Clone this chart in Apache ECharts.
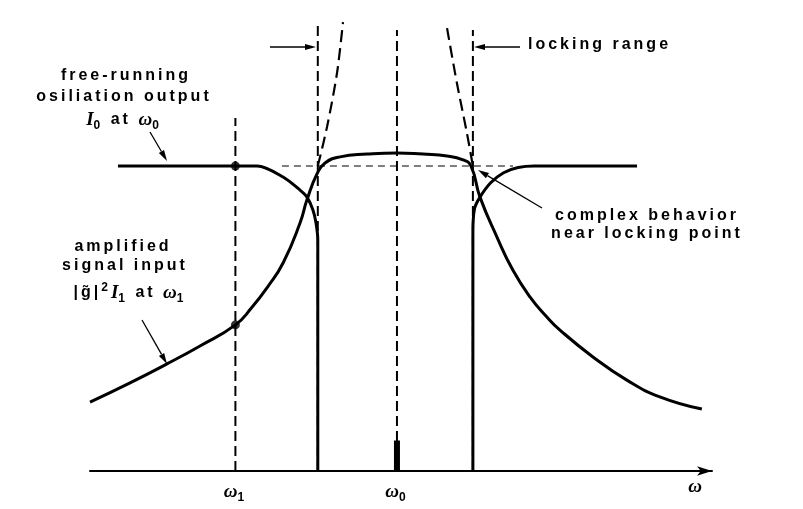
<!DOCTYPE html>
<html><head><meta charset="utf-8">
<script src="https://cdn.jsdelivr.net/npm/echarts@6/dist/echarts.min.js"></script>
<style>html,body{margin:0;padding:0;background:#fff}#c{width:803px;height:509px}</style>
</head><body><div id="c"></div>
<script>
// ---- data (ω relative to ω0, intensity relative to I0) ----
const tickValues = [-1, 0];
const tickSubs = ['1', '0'];
const amplified = [[-1.90,0.226],[-1.652,0.289],[-1.424,0.351],[-1.219,0.410],[-1.0,0.479],[-0.90,0.535],[-0.80,0.604],[-0.705,0.682],[-0.600,0.813],[-0.557,0.889],[-0.495,0.974],[-0.445,1.010],[-0.352,1.030],[-0.185,1.039],[0,1.043],[0.161,1.039],[0.310,1.033],[0.409,1.020],[0.458,1.0],[0.514,0.898],[0.619,0.767],[0.718,0.658],[0.823,0.571],[0.928,0.505],[1.009,0.462],[1.213,0.374],[1.423,0.298],[1.627,0.243],[1.887,0.203]];
const freeLeft = [[-1.727,1],[-0.866,1],[-0.705,0.964],[-0.60,0.921],[-0.557,0.898],[-0.52,0.856],[-0.501,0.813],[-0.49,0.757],[-0.49,0]];
const freeRight = [[0.47,0],[0.47,0.78],[0.48,0.86],[0.514,0.898],[0.58,0.945],[0.66,0.978],[0.75,0.995],[0.85,1.0],[1.486,1.0]];
const unstableLeft = [[-0.49,1.0],[-0.433,1.128],[-0.371,1.305],[-0.334,1.472]];
const unstableRight = [[0.31,1.452],[0.371,1.272],[0.433,1.108],[0.47,1.0]];
const lockEdges = [-0.49, 0.47];
const lockTops = [1.472, 1.446];
const omega1Top = 1.157;
const omega0Top = 1.446;
const freeLevel = [[-0.712,1],[0.718,1]];
const signalBar = [[0,0],[0,0.10]];
const markedPoints = [[-1,1],[-1,0.479]];

// ---- letter spacing for the sans labels ----
const LS = '3px';
const pf = CanvasRenderingContext2D.prototype;
const of = pf.fillText, om = pf.measureText;
pf.fillText = function(){ this.letterSpacing = /Liberation Sans/.test(this.font) ? LS : '0px'; return of.apply(this, arguments); };
pf.measureText = function(){ this.letterSpacing = /Liberation Sans/.test(this.font) ? LS : '0px'; return om.apply(this, arguments); };

const SANS = 'Liberation Sans';
const rich = {
  t: {fontFamily: SANS, fontWeight: 'bold', fontSize: 16, lineHeight: 26, color: '#000'},
  m: {fontFamily: 'Liberation Serif', fontStyle: 'italic', fontWeight: 'bold', fontSize: 19, lineHeight: 26, color: '#000'},
  s: {fontFamily: SANS, fontWeight: 'bold', fontSize: 12, lineHeight: 10, verticalAlign: 'bottom', color: '#000'},
  p: {fontFamily: SANS, fontWeight: 'bold', fontSize: 12, lineHeight: 10, verticalAlign: 'top', color: '#000'}
};

const chart = echarts.init(document.getElementById('c'), null, {renderer: 'canvas'});
const thick = {color: '#000', width: 3};
function line(data, ls, z, smooth) {
  return {type: 'line', data, showSymbol: false, smooth: smooth === undefined ? 0.3 : smooth, silent: true, z: z || 3, lineStyle: ls, animation: false};
}
function vline(x, top, ls) { return line([[x,0],[x,top]], ls, 2, false); }
const dashV = {color: '#000', width: 2, type: [10,5]};

function arrow(x1, y1, x2, y2) {
  const a = Math.atan2(y2 - y1, x2 - x1), L = 11, W = 3;
  const bx = x2 - L * Math.cos(a), by = y2 - L * Math.sin(a);
  const nx = -Math.sin(a) * W, ny = Math.cos(a) * W;
  return [
    {type: 'line', shape: {x1, y1, x2: bx, y2: by}, style: {stroke: '#000', lineWidth: 1.3}},
    {type: 'polygon', shape: {points: [[x2,y2],[bx+nx,by+ny],[bx-nx,by-ny]]}, style: {fill: '#000'}}
  ];
}
function txt(x, y, text, align) {
  return {type: 'text', x, y, style: {text, rich, align: align || 'center', verticalAlign: 'middle', font: 'bold 16px "Liberation Sans"', fill: '#000'}};
}

chart.setOption({
  animation: false,
  grid: {left: 90, right: 91, top: 13.5, bottom: 38},
  xAxis: {
    type: 'value', min: -1.9, max: 1.95,
    axisLine: {show: true, onZero: false, lineStyle: {color: '#000', width: 2}, symbol: ['none', 'arrow'], symbolSize: [7, 15]},
    axisTick: {show: false},
    splitLine: {show: false},
    axisLabel: {
      customValues: tickValues, margin: 8,
      formatter: v => '{m|ω}{s|' + tickSubs[tickValues.indexOf(v)] + '}',
      rich
    }
  },
  yAxis: {type: 'value', min: 0, max: 1.5, show: false},
  series: [
    vline(-1, omega1Top, dashV),
    vline(0, omega0Top, dashV),
    vline(lockEdges[0], lockTops[0], dashV),
    vline(lockEdges[1], lockTops[1], dashV),
    line(freeLevel, {color: '#000', width: 1.2, type: [7,5]}, 2, false),
    line(unstableLeft, {color: '#000', width: 2.2, type: [12,6]}, 2),
    line(unstableRight, {color: '#000', width: 2.2, type: [12,6]}, 2),
    line(amplified, thick, 3, 0.5),
    line(freeLeft, thick),
    line(freeRight, thick),
    {type: 'line', data: signalBar, showSymbol: false, lineStyle: {color: '#000', width: 6, cap: 'butt'}, z: 4},
    {type: 'scatter', data: markedPoints, symbolSize: 9, itemStyle: {color: '#000'}, z: 5}
  ],
  graphic: [
    txt(126, 76, '{t|free-running}'),
    txt(124, 97, '{t|osiliation output}'),
    txt(124, 120, '{m|I}{s|0}{t| at }{m|ω}{s|0}'),
    ...arrow(150, 132, 167, 161),
    txt(123, 247, '{t|amplified}'),
    txt(125, 266, '{t|signal input}'),
    txt(130, 293, '{t||g\u0303|}{p|2}{m|I}{s|1}{t| at }{m|ω}{s|1}'),
    ...arrow(142, 320, 167, 364),
    txt(528, 45, '{t|locking range}', 'left'),
    ...arrow(270, 47, 316, 47),
    ...arrow(520, 47, 474, 47),
    txt(647, 216, '{t|complex behavior}'),
    txt(647, 234, '{t|near locking point}'),
    ...arrow(542, 208, 478, 170),
    txt(695, 487, '{m|ω}')
  ]
});
</script></body></html>
